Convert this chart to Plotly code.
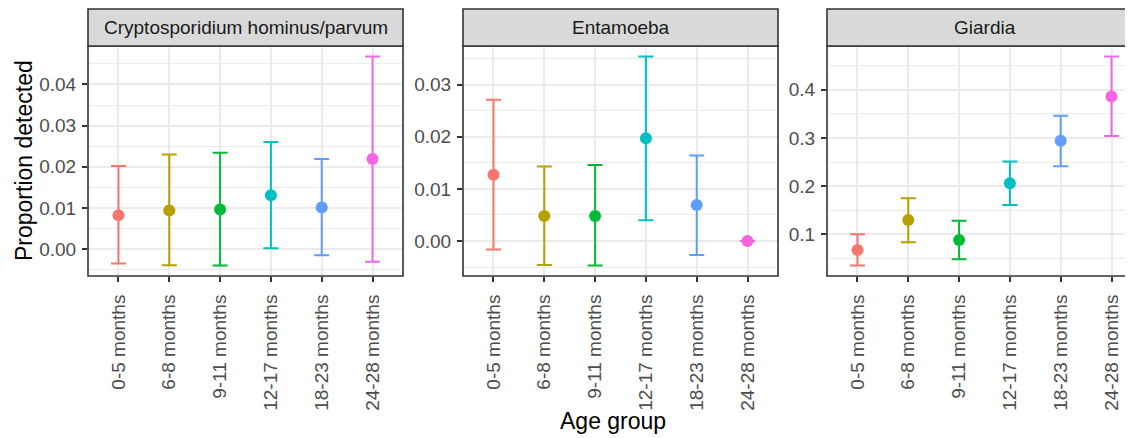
import plotly.graph_objects as go

# ---------------- data ----------------
categories = ["0-5 months", "6-8 months", "9-11 months",
              "12-17 months", "18-23 months", "24-28 months"]
colors = ["#F8766D", "#B79F00", "#00BA38", "#00BFC4", "#619CFF", "#F564E3"]

panel_titles = ["Cryptosporidium hominus/parvum", "Entamoeba", "Giardia"]

crypto_est = [0.0082, 0.0094, 0.0096, 0.0131, 0.0101, 0.0219]
crypto_lo = [-0.0035, -0.0039, -0.0040, 0.0002, -0.0015, -0.0031]
crypto_hi = [0.0202, 0.0230, 0.0234, 0.0260, 0.0219, 0.0468]

ent_est = [0.0127, 0.0048, 0.0048, 0.0197, 0.0069, 0.0]
ent_lo = [-0.0016, -0.0046, -0.0047, 0.0040, -0.0027, 0.0]
ent_hi = [0.0271, 0.0143, 0.0146, 0.0354, 0.0164, 0.0]

giar_est = [0.0676, 0.1297, 0.0883, 0.206, 0.294, 0.386]
giar_lo = [0.0352, 0.0834, 0.0483, 0.161, 0.241, 0.304]
giar_hi = [0.100, 0.175, 0.128, 0.251, 0.346, 0.469]

y_dticks = [0.01, 0.01, 0.1]
y_formats = [".2f", ".2f", ".1f"]

# ---------------- layout geometry (page pixels) ----------------
PAGE_W, PAGE_H = 1133, 438
OFF = 8  # default body margin of the html page
W, H = PAGE_W - OFF, PAGE_H - OFF
panel_x = [(88, 403), (463, 778), (827, 1142)]
plot_top, plot_bot = 46, 276
strip_top = 9
unit_px = (403 - 88) / 6.2

def px_x(p):
    return (p - OFF) / W

def px_y(p):
    return 1 - (p - OFF) / H

FONT = "Liberation Sans, Arial, Helvetica, sans-serif"
fig = go.Figure()

series = [(crypto_est, crypto_lo, crypto_hi),
          (ent_est, ent_lo, ent_hi),
          (giar_est, giar_lo, giar_hi)]

shapes = []
annotations = []
for pi, (est, lo, hi) in enumerate(series):
    xa = "x" if pi == 0 else f"x{pi+1}"
    ya = "y" if pi == 0 else f"y{pi+1}"
    for ci, cat in enumerate(categories):
        fig.add_trace(go.Scatter(
            x=[cat], y=[est[ci]], mode="markers",
            marker=dict(color=colors[ci], size=12),
            error_y=dict(type="data", symmetric=False,
                         array=[hi[ci] - est[ci]],
                         arrayminus=[est[ci] - lo[ci]],
                         color=colors[ci], thickness=2, width=7.5),
            xaxis=xa, yaxis=ya, showlegend=False, cliponaxis=False,
        ))
    x0, x1 = panel_x[pi]
    d0 = px_x(x0)
    d1 = min(1.0, px_x(x1))
    span = (min(x1, PAGE_W) - x0) / unit_px
    ymin, ymax = min(lo), max(hi)
    pad = (ymax - ymin) * 0.05
    axis_common = dict(showline=False, zeroline=False, automargin=False,
                       ticks="outside", ticklen=5, tickwidth=1.5,
                       tickcolor="#333333",
                       tickfont=dict(family=FONT, size=19, color="#4D4D4D"),
                       gridcolor="#EBEBEB", gridwidth=2)
    fig.layout[f"xaxis{'' if pi == 0 else pi+1}"] = dict(
        domain=[d0, d1], anchor=ya, type="category",
        categoryorder="array", categoryarray=categories,
        range=[-0.6, -0.6 + span], tickangle=-90, showgrid=True,
        ticklabelstandoff=5,
        **axis_common)
    fig.layout[f"yaxis{'' if pi == 0 else pi+1}"] = dict(
        domain=[px_y(plot_bot), px_y(plot_top)], anchor=xa,
        range=[ymin - pad, ymax + pad], dtick=y_dticks[pi], tick0=0,
        tickformat=y_formats[pi], showgrid=True, ticklabelstandoff=2,
        minor=dict(dtick=y_dticks[pi] / 2, tick0=0, showgrid=True,
                   gridcolor="#EBEBEB", gridwidth=1, ticks=""),
        **axis_common)
    # panel border
    shapes.append(dict(type="rect", xref="paper", yref="paper",
                       x0=px_x(x0), x1=px_x(x1),
                       y0=px_y(plot_bot), y1=px_y(plot_top),
                       line=dict(color="#333333", width=1.6),
                       fillcolor="rgba(0,0,0,0)", layer="above"))
    # strip
    shapes.append(dict(type="rect", xref="paper", yref="paper",
                       x0=px_x(x0), x1=px_x(x1),
                       y0=px_y(plot_top), y1=px_y(strip_top),
                       line=dict(color="#333333", width=1.6),
                       fillcolor="#D9D9D9", layer="above"))
    annotations.append(dict(text=panel_titles[pi], xref="paper", yref="paper",
                            x=px_x((x0 + x1) / 2), y=px_y((strip_top + plot_top) / 2),
                            xanchor="center", yanchor="middle", showarrow=False,
                            font=dict(family=FONT, size=19, color="#1A1A1A")))

annotations.append(dict(text="Proportion detected", xref="paper", yref="paper",
                        x=px_x(24), y=px_y((plot_top + plot_bot) / 2),
                        xanchor="center", yanchor="middle", textangle=-90,
                        showarrow=False, font=dict(family=FONT, size=23, color="#000000")))
annotations.append(dict(text="Age group", xref="paper", yref="paper",
                        x=px_x(613), y=px_y(421),
                        xanchor="center", yanchor="middle",
                        showarrow=False, font=dict(family=FONT, size=23, color="#000000")))

fig.update_layout(width=W, height=H, margin=dict(l=0, r=0, t=0, b=0),
                  paper_bgcolor="white", plot_bgcolor="white",
                  shapes=shapes, annotations=annotations, showlegend=False)

fig.write_html("out.html")
